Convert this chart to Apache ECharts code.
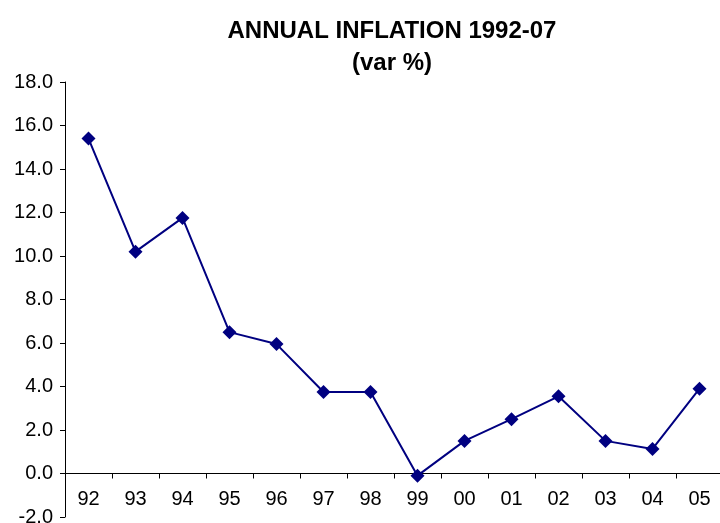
<!DOCTYPE html>
<html>
<head>
<meta charset="utf-8">
<script src="https://cdn.jsdelivr.net/npm/echarts@6/dist/echarts.min.js"></script>
<style>html,body{margin:0;padding:0;background:#fff;}#c{width:720px;height:523px;}</style>
</head>
<body>
<div id="c"></div>
<script>
const categories = ['92','93','94','95','96','97','98','99','00','01','02','03','04','05'];
const inflation = [15.4, 10.2, 11.75, 6.5, 5.95, 3.75, 3.75, -0.1, 1.5, 2.5, 3.55, 1.5, 1.13, 3.9];
const titleLines = ['ANNUAL INFLATION 1992-07', '(var %)'];
const yMin = -2, yMax = 18, yStep = 2;

const gridTop = 82, gridHeight = 435;
// place the category axis at value 0
const zeroOffset = -gridHeight * (0 - yMin) / (yMax - yMin);

const chart = echarts.init(document.getElementById('c'), null, {renderer: 'canvas'});
chart.setOption({
  animation: false,
  backgroundColor: '#fff',
  title: {
    text: titleLines.join('\n'),
    left: 387, top: 10, textAlign: 'center',
    textStyle: {fontFamily: 'Liberation Sans, Arial', fontWeight: 'bold', fontSize: 24, color: '#000', lineHeight: 32}
  },
  grid: {left: 65, top: gridTop, width: 658, height: gridHeight, containLabel: false, outerBoundsMode: 'none'},
  xAxis: {
    type: 'category', data: categories, boundaryGap: true,
    position: 'bottom', offset: zeroOffset,
    axisLine: {onZero: false, lineStyle: {color: '#000', width: 1}},
    axisTick: {show: true, inside: false, length: 5, alignWithLabel: false, lineStyle: {color: '#000'}},
    axisLabel: {margin: 16, fontFamily: 'Liberation Sans, Arial', fontSize: 20, color: '#000'},
    splitLine: {show: false}
  },
  yAxis: {
    type: 'value', min: yMin, max: yMax, interval: yStep,
    axisLine: {show: true, lineStyle: {color: '#000', width: 1}},
    axisTick: {show: true, inside: false, length: 5, lineStyle: {color: '#000'}},
    axisLabel: {margin: 12, fontFamily: 'Liberation Sans, Arial', fontSize: 20, color: '#000',
      formatter: v => v.toFixed(1)},
    splitLine: {show: false}
  },
  series: [{
    type: 'line', data: inflation,
    symbol: 'diamond', symbolSize: 14,
    lineStyle: {color: '#000080', width: 2},
    itemStyle: {color: '#000080'}
  }]
});
</script>
</body>
</html>
